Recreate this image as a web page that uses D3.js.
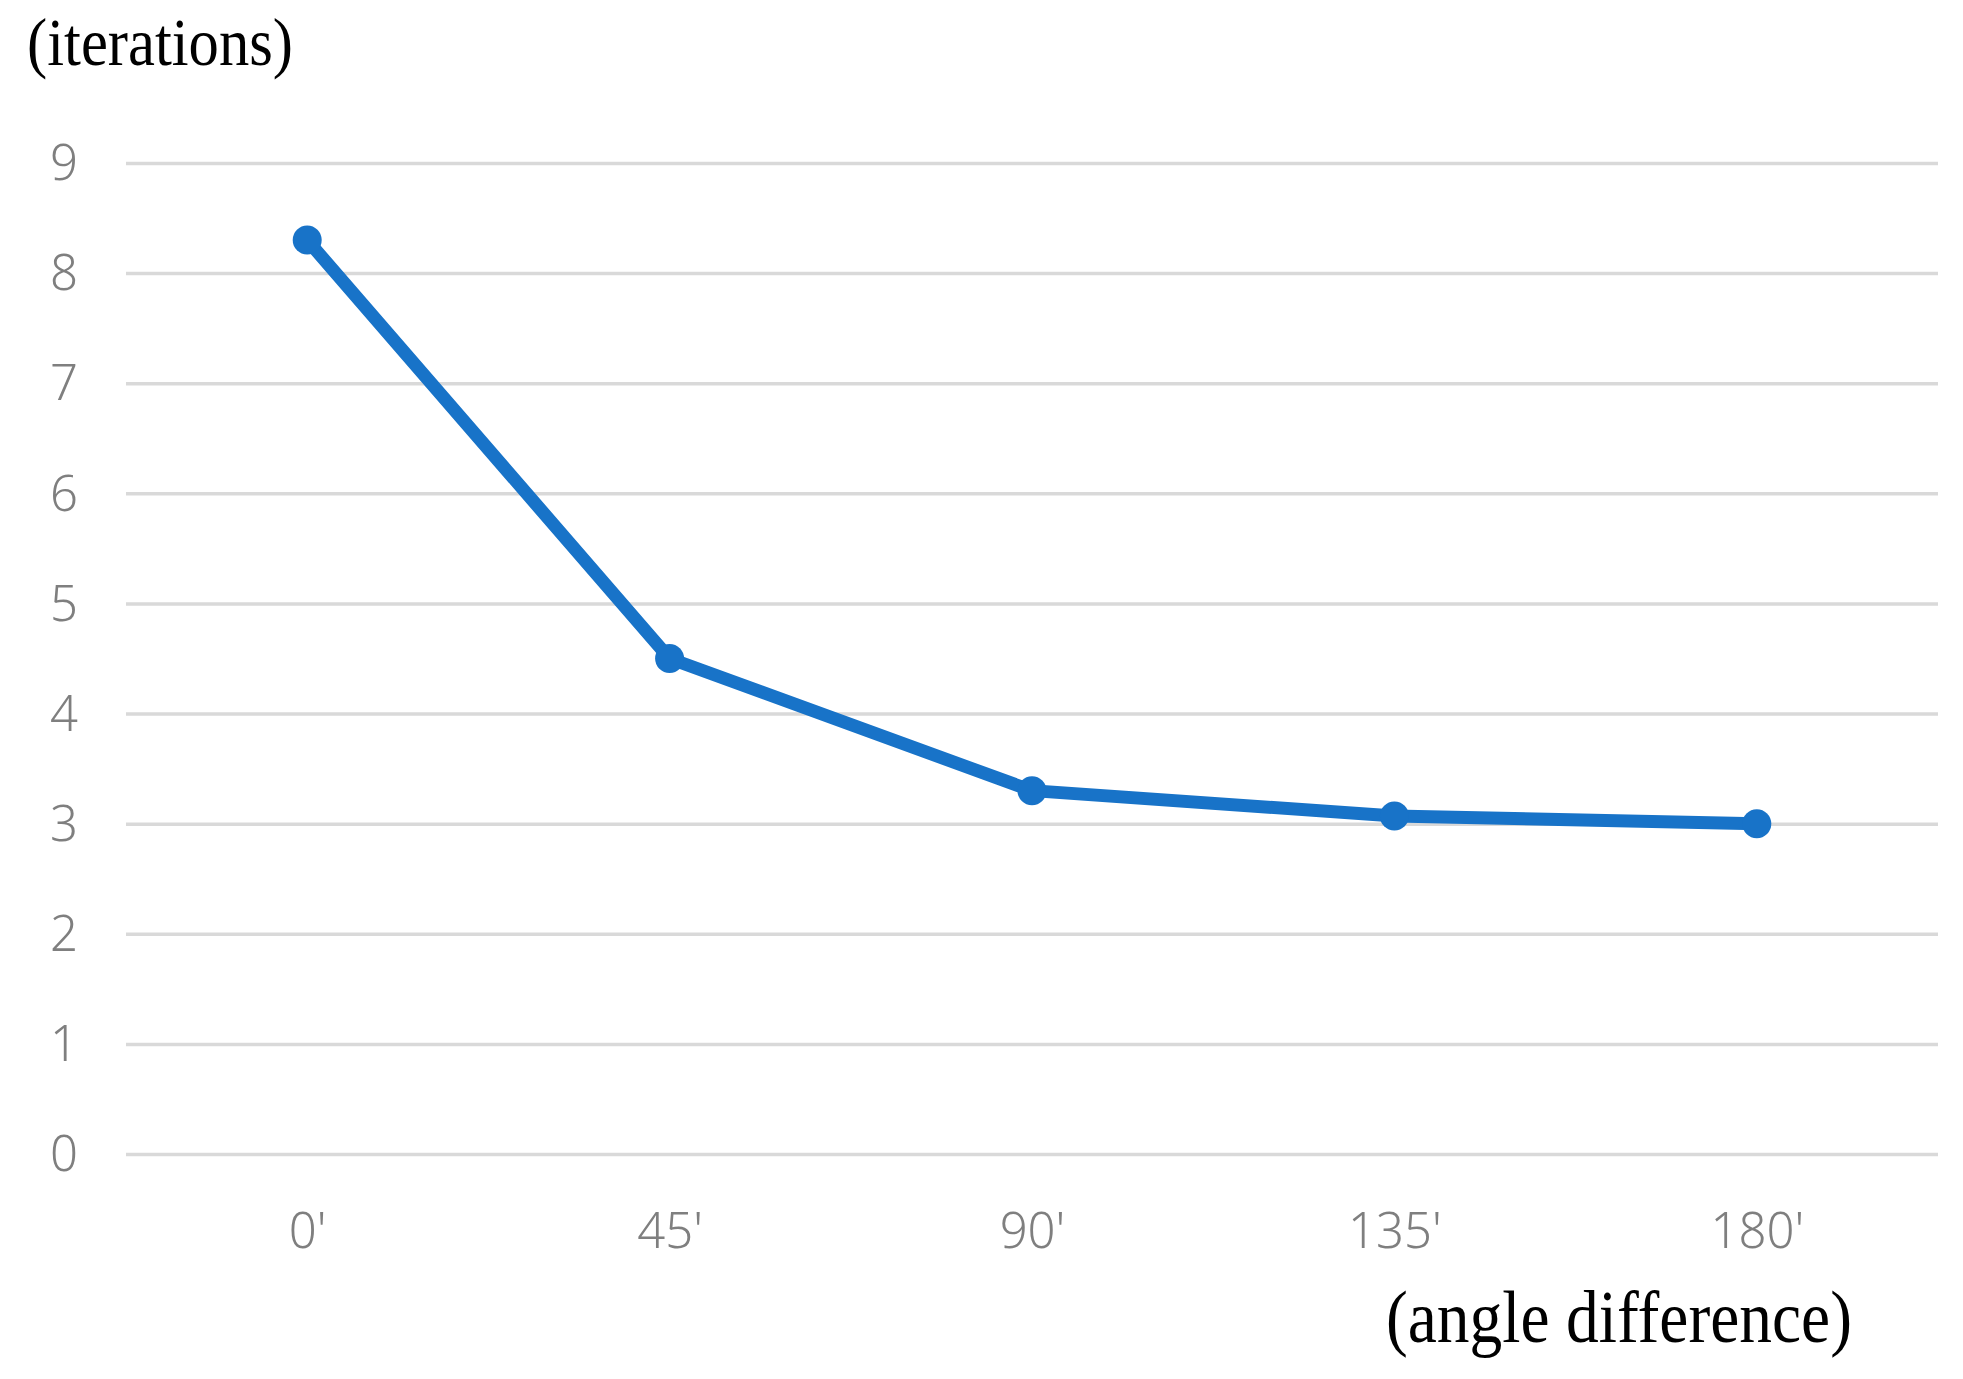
<!DOCTYPE html>
<html>
<head>
<meta charset="utf-8">
<script src="https://cdn.jsdelivr.net/npm/d3@7"></script>
<style>
html,body{margin:0;padding:0;background:#fff;}
svg{display:block;}
</style>
</head>
<body>
<script>
const categories = ["0'", "45'", "90'", "135'", "180'"];
const values = [8.3, 4.5, 3.3, 3.07, 3.0];
const yTicks = [0, 1, 2, 3, 4, 5, 6, 7, 8, 9];
const yTitle = "(iterations)";
const xTitle = "(angle difference)";

const W = 1963, H = 1379;
const plot = {left: 126, right: 1938, top: 163, bottom: 1154};

const svg = d3.select("body").append("svg").attr("width", W).attr("height", H);
svg.append("rect").attr("width", W).attr("height", H).attr("fill", "#fff");

const x = d3.scalePoint().domain(categories).range([plot.left, plot.right]).padding(0.5);
const y = d3.scaleLinear().domain([0, 9]).range([plot.bottom, plot.top]);

// gridlines + y labels
const yAxis = d3.axisLeft(y).tickValues(yTicks).tickSize(-(plot.right - plot.left)).tickPadding(48).tickFormat(d3.format("d"));
const gy = svg.append("g").attr("transform", `translate(${plot.left},0)`).call(yAxis);
gy.select(".domain").remove();
gy.selectAll(".tick line").attr("stroke", "#d9d9d9").attr("stroke-width", 3.5);
gy.selectAll(".tick text").attr("fill", "#7f7f7f").attr("font-family", "'Noto Sans', sans-serif")
  .attr("font-weight", 300).attr("font-size", 49).attr("dy", "0.34em");

const xAxis = d3.axisBottom(x).tickSize(0).tickPadding(0);
const gx = svg.append("g").attr("transform", `translate(0,${plot.bottom})`).call(xAxis);
gx.select(".domain").remove();
gx.selectAll(".tick text").attr("fill", "#7f7f7f").attr("font-family", "'Noto Sans', sans-serif")
  .attr("font-weight", 300).attr("font-size", 49).attr("y", 94).attr("dy", 0);

// line
const line = d3.line().x((d, i) => x(categories[i])).y(d => y(d));
svg.append("path").datum(values).attr("d", line).attr("fill", "none")
  .attr("stroke", "#1873c8").attr("stroke-width", 13).attr("stroke-linejoin", "round");
svg.selectAll("circle.pt").data(values).enter().append("circle").attr("class", "pt")
  .attr("cx", (d, i) => x(categories[i])).attr("cy", d => y(d)).attr("r", 14.5).attr("fill", "#1873c8");

// titles
svg.append("text").text(yTitle).attr("x", 27).attr("y", 65)
  .attr("font-family", "'Liberation Serif', 'Times New Roman', serif").attr("font-size", 68)
  .attr("textLength", 266).attr("lengthAdjust", "spacingAndGlyphs").attr("fill", "#000");
svg.append("text").text(xTitle).attr("x", 1386).attr("y", 1342)
  .attr("font-family", "'Liberation Serif', 'Times New Roman', serif").attr("font-size", 74)
  .attr("textLength", 466).attr("lengthAdjust", "spacingAndGlyphs").attr("fill", "#000");
</script>
</body>
</html>
